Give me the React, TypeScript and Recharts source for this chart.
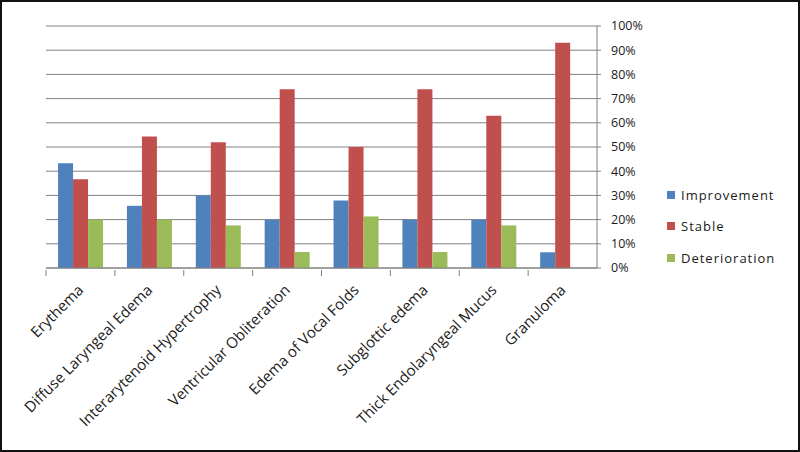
import { Bar, BarChart, CartesianGrid, Legend, XAxis, YAxis } from "recharts";

const categories = [
  "Erythema",
  "Diffuse Laryngeal Edema",
  "Interarytenoid Hypertrophy",
  "Ventricular Obliteration",
  "Edema of Vocal Folds",
  "Subglottic edema",
  "Thick Endolaryngeal Mucus",
  "Granuloma",
];
const improvement = [43.3, 25.7, 30, 20, 27.9, 20, 20, 6.5];
const stable = [36.7, 54.3, 52, 73.9, 50, 73.9, 62.9, 93.1];
const deterioration = [20, 20, 17.6, 6.6, 21.3, 6.6, 17.6, 0];
const yTicks = [0, 10, 20, 30, 40, 50, 60, 70, 80, 90, 100];

const data = categories.map((name, i) => ({
  name,
  improvement: improvement[i],
  stable: stable[i],
  deterioration: deterioration[i],
}));

const W = 800;
const H = 452;
const LEFT = 46;
const AXIS_W = 203;
const band = (W - LEFT - AXIS_W) / categories.length;
const FONT = "'Open Sans', sans-serif";

const series = [
  { key: "improvement", label: "Improvement", color: "#4F81BD" },
  { key: "stable", label: "Stable", color: "#C0504D" },
  { key: "deterioration", label: "Deterioration", color: "#9BBB59" },
];

const CatTick = (props: any) => {
  const { x, y, payload } = props;
  const ax = x + 4;
  const ay = y + 19;
  return (
    <g>
      <line x1={x - band / 2} y1={y - 2} x2={x - band / 2} y2={y + 4} stroke="#808080" />
      <text
        x={ax}
        y={ay}
        transform={`rotate(-45, ${ax}, ${ay})`}
        textAnchor="end"
        fontSize={15}
        fontFamily={FONT}
        fill="#1a1a1a"
      >
        {payload.value}
      </text>
    </g>
  );
};

const LegendBox = () => (
  <div style={{ fontFamily: FONT, fontSize: 13, color: "#1a1a1a", letterSpacing: 1 }}>
    {series.map((s) => (
      <div key={s.key} style={{ display: "flex", alignItems: "center", height: 31.5 }}>
        <span style={{ width: 8, height: 8, background: s.color, marginRight: 6, display: "inline-block" }} />
        {s.label}
      </div>
    ))}
  </div>
);

const App = () => {
  return (
    <div
      style={{
        position: "absolute",
        left: 0,
        top: 0,
        width: W,
        height: H,
        border: "2px solid #111",
        boxSizing: "border-box",
        background: "#fff",
      }}
    >
      <BarChart
        width={W - 4}
        height={H - 4}
        data={data}
        margin={{ top: 24, left: LEFT - 2, right: 0, bottom: 0 }}
        barCategoryGap="17.5%"
        barGap={0}
      >
        <CartesianGrid vertical={false} stroke="#808080" />
        <XAxis
          dataKey="name"
          interval={0}
          height={182}
          tickLine={false}
          tickSize={2}
          stroke="#808080"
          tick={<CatTick />}
        />
        <YAxis
          orientation="right"
          width={AXIS_W - 2}
          domain={[0, 100]}
          ticks={yTicks}
          tickFormatter={(v) => `${v}%`}
          stroke="#808080"
          tickSize={4}
          tickMargin={10}
          tick={{ fontSize: 12.5, fontFamily: FONT, fill: "#1a1a1a" }}
        />
        <Legend
          layout="vertical"
          align="center"
          verticalAlign="middle"
          content={<LegendBox />}
          wrapperStyle={{ position: "absolute", left: 665, top: 177, width: 130 }}
        />
        {series.map((s) => (
          <Bar key={s.key} dataKey={s.key} name={s.label} fill={s.color} isAnimationActive={false} />
        ))}
      </BarChart>
    </div>
  );
};

export default App;
